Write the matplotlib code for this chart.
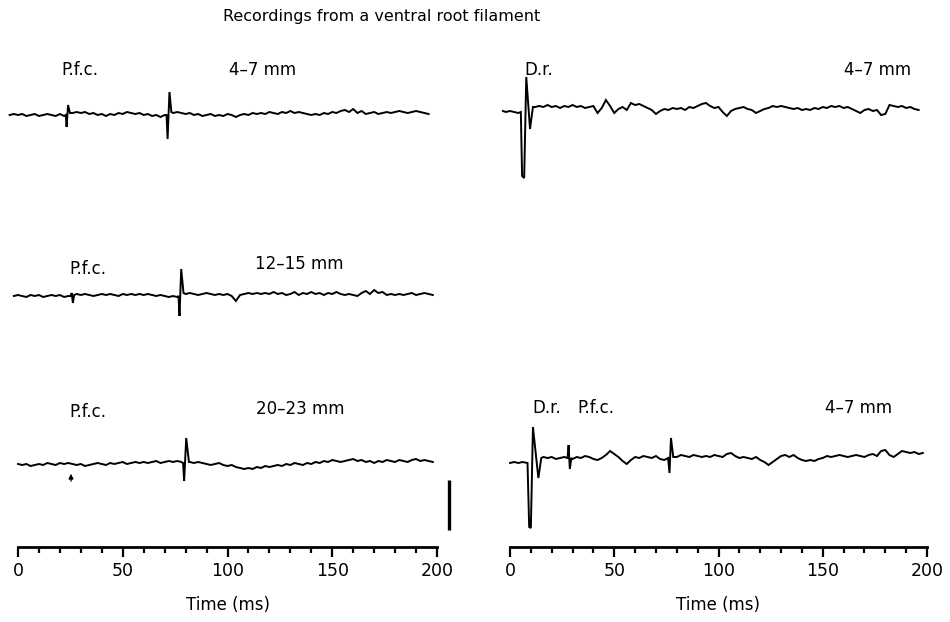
import numpy as np
import matplotlib
matplotlib.use("Agg")
import matplotlib.pyplot as plt

# ---------------- data (time in ms, amplitude in arbitrary units, up = positive) -------------
GRID_STEP = 2.0

# Left column, trace 1: P.f.c. 4-7 mm
l1_t0 = -4.0
l1_vals = [0, 1, 0, 1, -1, 0, 1, -1, 0, 1,
           0, -1, 1, -1, 0, 2, 3, 2, 3, 1,
           2, 0, 1, -1, 1, 0, 2, 1, 3, 2,
           1, 2, 0, 1, -1, 0, -2, 0, 3, 2,
           3, 2, 1, 2, 0, 1, -1, 0, 1, -1,
           0, -1, 1, 0, -2, 0, 1, 0, 2, 1,
           2, 1, 3, 2, 1, 3, 2, 4, 2, 3,
           2, 1, 0, 1, 0, 2, 1, 3, 2, 4,
           5, 3, 6, 2, 4, 1, 2, 3, 1, 2,
           3, 2, 3, 4, 3, 2, 3, 4, 3, 2,
           1]
l1_spike1_t = [22.8, 23.2, 23.9, 24.8]
l1_spike1_v = [0, -12, 10, 2]
l1_spike2_t = [70.9, 71.4, 72.3, 73.2]
l1_spike2_v = [0, -24, 23, 3]

# Left column, trace 2: P.f.c. 12-15 mm
l2_t0 = -2.0
l2_vals = [0, 1, 0, -1, 1, 0, 1, -1, 0, 1,
           0, 1, -1, 0, 0, 2, 1, 2, 1, 0,
           1, 2, 1, 2, 1, 0, 2, 1, 2, 1,
           2, 1, 2, 1, 0, 1, 0, -1, 0, -1,
           3, 2, 3, 2, 1, 2, 3, 2, 1, 2,
           1, 2, 0, -5, 1, 2, 3, 2, 3, 2,
           3, 2, 4, 2, 3, 1, 2, 4, 1, 3,
           2, 4, 2, 3, 1, 3, 2, 4, 2, 1,
           2, 1, 0, 3, 5, 2, 6, 3, 4, 1,
           2, 1, 2, 1, 2, 3, 1, 2, 3, 2,
           1]
l2_spike1_t = [25.2, 25.6, 26.2, 26.8]
l2_spike1_v = [0, 3, -7, 1]
l2_spike2_t = [76.6, 77.1, 77.9, 79.0]
l2_spike2_v = [0, -20, 27, 3]

# Left column, trace 3: P.f.c. 20-23 mm
l3_t0 = 0.0
l3_vals = [0, -1, 0, -2, -1, 0, -1, 1, 0, -1,
           1, 0, 1, 0, -1, 0, -2, -1, 0, 1,
           0, -1, 1, 0, 1, 2, 0, 1, 2, 1,
           2, 1, 2, 3, 1, 2, 3, 2, 3, 2,
           3, 2, 1, 2, 1, 0, -1, 0, 1, -1,
           -2, -1, -3, -4, -5, -4, -5, -3, -4, -2,
           -3, -2, -1, -2, 0, -1, 1, 0, -1, 1,
           0, 2, 1, 3, 2, 4, 3, 2, 3, 4,
           5, 3, 4, 2, 3, 1, 3, 2, 4, 3,
           2, 4, 3, 2, 4, 5, 3, 4, 3, 2]
l3_spike_t = [78.8, 79.3, 80.3, 81.6]
l3_spike_v = [1, -17, 26, 2]
l3_arrow_t = 25.3

# Right column, trace 1: D.r. 4-7 mm
r1_t0 = 12.0
r1_vals = [5, 6, 5, 7, 5, 6, 4, 6, 5, 7,
           5, 6, 4, 5, 6, -1, 4, 12, 6, -1,
           3, 5, 2, 9, 7, 8, 6, 4, 2, -2,
           1, 3, 2, 4, 3, 4, 2, 5, 4, 6,
           8, 9, 6, 4, 5, 0, -4, 1, 3, 4,
           5, 3, 2, -1, 1, 3, 4, 6, 5, 6,
           5, 4, 3, 4, 2, 3, 2, 4, 3, 5,
           4, 6, 5, 6, 4, 5, 3, 1, -1, 2,
           3, 1, 2, -3, -2, 7, 6, 5, 6, 4,
           5, 3, 2]
r1_stim_t = [-3.4, -2.0, 0.0, 2.0, 4.0, 5.2, 5.8, 6.8, 7.8, 9.6, 11.0]
r1_stim_v = [1, 0, 1, 0, -1, 0, -64, -66, 35, -17, 5]

# Right column, trace 2: D.r. + P.f.c. 4-7 mm
r2_t0 = 14.0
r2_vals = [5, 6, 5, 6, 4, 5, 6, 5, 4, 6,
           5, 7, 6, 4, 3, 5, 8, 12, 9, 6,
           2, -1, 3, 6, 5, 7, 6, 5, 7, 4,
           3, 6, 7, 6, 8, 7, 6, 8, 7, 6,
           7, 6, 8, 7, 6, 9, 10, 7, 5, 6,
           5, 4, 6, 3, 1, -2, 1, 4, 7, 8,
           6, 8, 5, 3, 2, 3, 2, 4, 5, 7,
           6, 7, 8, 7, 6, 7, 8, 7, 6, 8,
           9, 7, 12, 13, 8, 6, 9, 12, 11, 10,
           11, 9, 10]
r2_stim_t = [0.0, 2.0, 4.0, 6.0, 8.4, 9.2, 10.0, 11.0, 13.6, 15.0]
r2_stim_v = [0, 1, 0, 1, 0, -64, -65, 36, -15, 5]
r2_spike1_t = [27.6, 28.1, 28.7, 29.4]
r2_spike1_v = [5, 18, -6, 5]
r2_spike2_t = [75.8, 76.5, 77.2, 78.3]
r2_spike2_v = [5, -10, 25, 6]

tick_labels = ["0", "50", "100", "150", "200"]
tick_values = [0, 50, 100, 150, 200]

# ---------------- layout (positions / styles) ----------------
W, H = 950, 622
Y_TOP, Y_AXIS = 40, 547            # pixel rows spanned by each column's axes
LEFT_X0, LEFT_X1 = 18, 437
RIGHT_X0, RIGHT_X1 = 510, 927
left_offsets = [-115, -296, -464]
right_offsets = [-112, -463]
scale_bar_t = 205.7
scale_bar_y = (-530, -480)
FS = 12
LW = 1.4


def assemble(t0, vals, events):
    t = t0 + GRID_STEP * np.arange(len(vals))
    v = np.asarray(vals, float)
    keep = np.ones(len(t), bool)
    for et, ev in events:
        keep &= ~((t >= min(et)) & (t <= max(et)))
    T = np.concatenate([t[keep]] + [np.asarray(e[0], float) for e in events])
    V = np.concatenate([v[keep]] + [np.asarray(e[1], float) for e in events])
    o = np.argsort(T, kind="stable")
    return T[o], V[o]


fig = plt.figure(figsize=(W / 100, H / 100), dpi=100)


def make_axes(x0, x1):
    ax = fig.add_axes([x0 / W, (H - Y_AXIS) / H, (x1 - x0) / W, (Y_AXIS - Y_TOP) / H])
    ax.set_xlim(0, 200)
    ax.set_ylim(-Y_AXIS, -Y_TOP)
    for s in ("left", "right", "top"):
        ax.spines[s].set_visible(False)
    ax.spines["bottom"].set_linewidth(2.0)
    ax.set_yticks([])
    ax.set_xticks(tick_values)
    ax.set_xticklabels(tick_labels)
    ax.set_xticks(np.arange(0, 201, 10), minor=True)
    ax.tick_params(axis="x", which="major", direction="out", length=7.5, width=1.6,
                   labelsize=12.5, pad=3)
    ax.tick_params(axis="x", which="minor", direction="out", length=4.5, width=1.6)
    ax.set_xlabel("Time (ms)", fontsize=FS, labelpad=12)
    ax.patch.set_visible(False)
    return ax


axL = make_axes(LEFT_X0, LEFT_X1)
axR = make_axes(RIGHT_X0, RIGHT_X1)

left_traces = [
    assemble(l1_t0, l1_vals, [(l1_spike1_t, l1_spike1_v), (l1_spike2_t, l1_spike2_v)]),
    assemble(l2_t0, l2_vals, [(l2_spike1_t, l2_spike1_v), (l2_spike2_t, l2_spike2_v)]),
    assemble(l3_t0, l3_vals, [(l3_spike_t, l3_spike_v)]),
]
right_traces = [
    assemble(r1_t0, r1_vals, [(r1_stim_t, r1_stim_v)]),
    assemble(r2_t0, r2_vals, [(r2_stim_t, r2_stim_v), (r2_spike1_t, r2_spike1_v),
                              (r2_spike2_t, r2_spike2_v)]),
]

for (t, v), off in zip(left_traces, left_offsets):
    axL.plot(t, v + off, color="black", lw=LW, clip_on=False, solid_joinstyle="miter")
for (t, v), off in zip(right_traces, right_offsets):
    axR.plot(t, v + off, color="black", lw=LW, clip_on=False, solid_joinstyle="miter")

# scale bar
axL.plot([scale_bar_t, scale_bar_t], list(scale_bar_y), color="black", lw=2.4,
         clip_on=False, solid_capstyle="butt")

# arrow under third left trace
axL.annotate("", xy=(l3_arrow_t, left_offsets[2] - 7), xytext=(l3_arrow_t, left_offsets[2] - 20),
             arrowprops=dict(arrowstyle="-|>", color="black", lw=0.9, mutation_scale=7))

# labels
txt = dict(fontsize=FS, ha="center", va="center", color="black")
axL.text(29.6, -70, "P.f.c.", **txt)
axL.text(116.5, -70, "4\u20137 mm", **txt)
axL.text(33.4, -269, "P.f.c.", **txt)
axL.text(134.1, -264, "12\u201315 mm", **txt)
axL.text(33.4, -412, "P.f.c.", **txt)
axL.text(134.6, -409, "20\u201323 mm", **txt)
axR.text(13.9, -70, "D.r.", **txt)
axR.text(176.5, -70, "4\u20137 mm", **txt)
axR.text(17.7, -408, "D.r.", **txt)
axR.text(41.2, -408, "P.f.c.", **txt)
axR.text(167.4, -408, "4\u20137 mm", **txt)

fig.text(382 / W, 1 - 16 / H, "Recordings from a ventral root filament",
         fontsize=11.5, ha="center", va="center")

fig.savefig("out.png", dpi=100)
